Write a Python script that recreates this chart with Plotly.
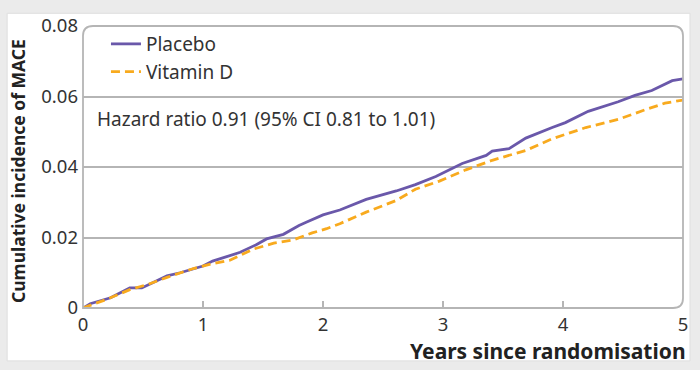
import plotly.graph_objects as go

# ---- data ----
years_placebo = [0, 0.06, 0.23, 0.39, 0.49, 0.70, 0.81, 0.92, 1.0, 1.08, 1.19, 1.31, 1.44, 1.53,
                 1.67, 1.80, 1.86, 2.0, 2.14, 2.36, 2.61, 2.77, 2.94, 3.16, 3.36, 3.41, 3.55,
                 3.69, 3.91, 4.02, 4.21, 4.46, 4.60, 4.74, 4.91, 5.0]
inc_placebo = [0, 0.0012, 0.0029, 0.0057, 0.0057, 0.0091, 0.0100, 0.0112, 0.0119, 0.0133, 0.0144,
               0.0158, 0.0179, 0.0196, 0.0209, 0.0234, 0.0243, 0.0264, 0.0278, 0.0308, 0.0332,
               0.0350, 0.0373, 0.0410, 0.0433, 0.0445, 0.0452, 0.0482, 0.0512, 0.0526, 0.0558,
               0.0585, 0.0603, 0.0617, 0.0645, 0.0650]

years_vitd = [0, 0.2, 0.39, 0.55, 0.70, 0.92, 1.08, 1.22, 1.42, 1.59, 1.75, 1.91, 2.03, 2.14,
              2.36, 2.61, 2.77, 2.97, 3.19, 3.41, 3.69, 3.91, 4.19, 4.46, 4.69, 4.85, 5.0]
inc_vitd = [0, 0.0025, 0.0052, 0.0068, 0.0087, 0.0112, 0.0126, 0.0135, 0.0167, 0.0184, 0.0193,
            0.0213, 0.0225, 0.0239, 0.0272, 0.0305, 0.0337, 0.0360, 0.0392, 0.0419, 0.0447,
            0.0480, 0.0512, 0.0535, 0.0563, 0.0581, 0.0590]

x_ticks = [0, 1, 2, 3, 4, 5]
x_ticklabels = ["0", "1", "2", "3", "4", "5"]
y_ticks = [0, 0.02, 0.04, 0.06, 0.08]
y_ticklabels = ["0", "0.02", "0.04", "0.06", "0.08"]

series_names = ["Placebo", "Vitamin D"]
hr_text = "Hazard ratio 0.91 (95% CI 0.81 to 1.01)"
x_title = "Years since randomisation"
y_title = "Cumulative incidence of MACE"

# ---- layout geometry ----
W, H = 700, 370
L, R, T, B = 83, 16, 20, 62
pw, ph = W - L - R, H - T - B

def px(x):
    return (x - L) / pw

def py(y):
    return (H - B - y) / ph

FONT = "Noto Sans"
PURPLE = "#6a58aa"
ORANGE = "#f8aa1e"
GRID = "#b5b5b5"
TXT = "#333333"

fig = go.Figure()
fig.add_trace(go.Scatter(x=years_placebo, y=inc_placebo, mode="lines", name=series_names[0],
                         line=dict(color=PURPLE, width=2.8)))
fig.add_trace(go.Scatter(x=years_vitd, y=inc_vitd, mode="lines", name=series_names[1],
                         line=dict(color=ORANGE, width=2.8, dash="9px,5px")))

rx, ry = 10 / pw, 10 / ph
box_path = (f"M 0,0 L 0,{1-ry} Q 0,1 {rx},1 L {1-rx},1 Q 1,1 1,{1-ry} "
            f"L 1,{ry} Q 1,0 {1-rx},0 Z")

shapes = [
    dict(type="rect", xref="paper", yref="paper", x0=px(7), x1=px(691), y0=py(362), y1=py(7),
         fillcolor="white", line=dict(color="#dedede", width=1), layer="below"),
    dict(type="path", xref="paper", yref="paper", path=box_path,
         line=dict(color=GRID, width=1.8), fillcolor="rgba(0,0,0,0)", layer="above"),
]

annotations = [
    dict(xref="paper", yref="paper", x=px(95), y=py(115), text=hr_text, showarrow=False,
         xanchor="left", yanchor="middle", font=dict(family=FONT, size=19, color=TXT)),
    dict(xref="paper", yref="paper", x=px(689), y=py(352), text=f"<b>{x_title}</b>",
         showarrow=False, xanchor="right", yanchor="middle",
         font=dict(family=FONT, size=21, color="#222222")),
    dict(xref="paper", yref="paper", x=px(18), y=py(168), text=f"<b>{y_title}</b>",
         showarrow=False, xanchor="center", yanchor="middle", textangle=-90,
         font=dict(family=FONT, size=17.5, color="#222222")),
]

fig.update_layout(
    width=W, height=H,
    margin=dict(l=L, r=R, t=T, b=B),
    paper_bgcolor="#ebebeb",
    plot_bgcolor="white",
    font=dict(family=FONT, size=18, color=TXT),
    shapes=shapes,
    annotations=annotations,
    legend=dict(x=px(106), y=py(19), xanchor="left", yanchor="top",
                bgcolor="rgba(0,0,0,0)", font=dict(family=FONT, size=19, color=TXT),
                tracegroupgap=0, itemwidth=30),
    xaxis=dict(range=[0, 5], tickvals=x_ticks, ticktext=x_ticklabels, showgrid=False,
               zeroline=False, showline=False, ticks="inside", ticklen=7, tickcolor=GRID,
               tickwidth=1.5, tickfont=dict(size=18.5, color=TXT), ticklabelstandoff=3),
    yaxis=dict(range=[0, 0.08], tickvals=y_ticks, ticktext=y_ticklabels, showgrid=True,
               gridcolor=GRID, gridwidth=1.5, zeroline=False, showline=False, ticks="",
               tickfont=dict(size=18.5, color=TXT), ticklabelstandoff=4),
)

fig.write_html("out.html", config={"displayModeBar": False},
               post_script="document.body.style.margin='0';document.body.style.overflow='hidden';")
